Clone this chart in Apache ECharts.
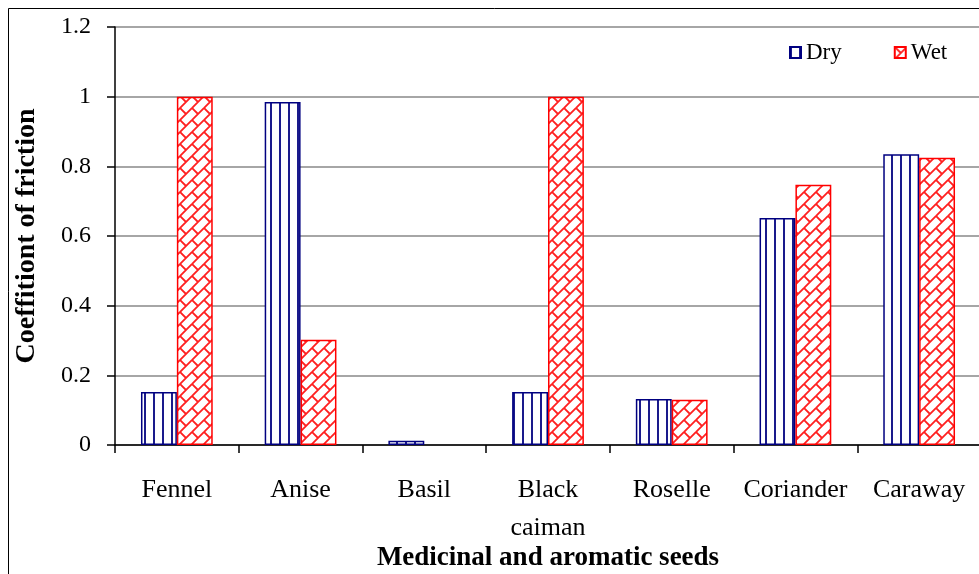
<!DOCTYPE html>
<html>
<head>
<meta charset="utf-8">
<script src="https://cdn.jsdelivr.net/npm/echarts@6/dist/echarts.min.js"></script>
<style>html,body{margin:0;padding:0;background:#fff;}#c{width:979px;height:574px;}</style>
</head>
<body>
<div id="c"></div>
<script>
var categories = ['Fennel', 'Anise', 'Basil', 'Black\ncaiman', 'Roselle', 'Coriander', 'Caraway'];
var dryValues = [0.152, 0.985, 0.012, 0.152, 0.132, 0.652, 0.835];
var wetValues = [1.0, 0.302, null, 1.0, 0.130, 0.747, 0.825];
var yTicks = [0, 0.2, 0.4, 0.6, 0.8, 1, 1.2];

function dryPattern() {
  var c = document.createElement('canvas');
  c.width = 9; c.height = 10;
  var g = c.getContext('2d');
  g.fillStyle = '#fff'; g.fillRect(0, 0, 9, 10);
  g.fillStyle = '#1a1a8c'; g.fillRect(0, 0, 2, 10);
  return c;
}
function wetPattern() {
  var S = 12;
  var c = document.createElement('canvas');
  c.width = S; c.height = S;
  var g = c.getContext('2d');
  g.fillStyle = '#fff'; g.fillRect(0, 0, S, S);
  g.strokeStyle = '#ff2020'; g.lineWidth = 1.8;
  for (var dx = -S; dx <= S; dx += S) {
    for (var dy = -S; dy <= S; dy += S) {
      g.beginPath();
      g.moveTo(dx + 0, dy + S); g.lineTo(dx + S, dy + 0);
      g.moveTo(dx + 0, dy + 0); g.lineTo(dx + S / 2, dy + S / 2);
      g.stroke();
    }
  }
  return c;
}

var chart = echarts.init(document.getElementById('c'), null, {renderer: 'canvas'});
var font = 'Liberation Serif';
chart.setOption({
  backgroundColor: '#fff',
  animation: false,
  graphic: [{
    type: 'rect', z: -10, silent: true,
    shape: {x: 8.5, y: 8.5, width: 1200, height: 1000},
    style: {fill: 'none', stroke: '#000', lineWidth: 1}
  }],
  legend: {
    left: 784, top: 36,
    itemWidth: 11, itemHeight: 11, itemGap: 52,
    icon: 'rect',
    textStyle: {fontFamily: font, fontSize: 23, color: '#000', padding: [0, 0, 0, 0]},
    data: ['Dry', 'Wet']
  },
  grid: {left: 115, right: -2, top: 27, bottom: 129, containLabel: false, outerBoundsMode: 'none'},
  xAxis: {
    type: 'category',
    data: categories,
    name: 'Medicinal and aromatic seeds',
    nameLocation: 'middle',
    nameGap: 100,
    nameMoveOverlap: false,
    nameTextStyle: {fontFamily: font, fontSize: 27, fontWeight: 'bold', color: '#000'},
    axisLine: {lineStyle: {color: '#000', width: 1.5}},
    axisTick: {show: true, length: 8, lineStyle: {color: '#000', width: 1.5}},
    axisLabel: {fontFamily: font, fontSize: 26, color: '#000', margin: 26, lineHeight: 38, interval: 0}
  },
  yAxis: {
    type: 'value',
    min: 0, max: 1.2, interval: 0.2,
    name: 'Coeffitiont of friction',
    nameLocation: 'middle',
    nameGap: 74,
    nameMoveOverlap: false,
    nameTextStyle: {fontFamily: font, fontSize: 28, fontWeight: 'bold', color: '#000'},
    axisLine: {show: true, lineStyle: {color: '#000', width: 1.5}},
    axisTick: {show: true, length: 8, lineStyle: {color: '#000', width: 1.5}},
    axisLabel: {
      fontFamily: font, fontSize: 24, color: '#000', margin: 24,
      formatter: function (v) {
        for (var i = 0; i < yTicks.length; i++) {
          if (Math.abs(yTicks[i] - v) < 1e-9) return String(yTicks[i]);
        }
        return '';
      }
    },
    splitLine: {lineStyle: {color: '#888', width: 1.5}}
  },
  series: [{
    name: 'Dry', type: 'bar', data: dryValues,
    barGap: '0%', barCategoryGap: '42%',
    itemStyle: {color: {image: dryPattern(), repeat: 'repeat'}, borderColor: '#000080', borderWidth: 1.5}
  }, {
    name: 'Wet', type: 'bar', data: wetValues,
    barGap: '0%', barCategoryGap: '42%',
    itemStyle: {color: {image: wetPattern(), repeat: 'repeat'}, borderColor: '#ff0000', borderWidth: 1.5}
  }]
});
</script>
</body>
</html>
